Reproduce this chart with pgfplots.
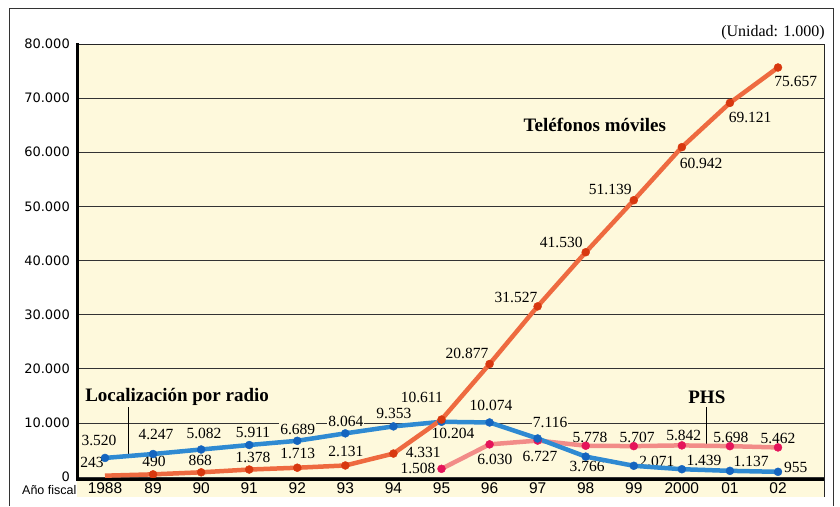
\documentclass[border=0pt]{standalone}
\usepackage{pgfplots}
\pgfplotsset{compat=1.18}
\usepackage{fontspec}
\setmainfont{Liberation Serif}
\setsansfont{Liberation Sans}
\newfontfamily\dejavu{DejaVu Sans}
\definecolor{bg}{HTML}{FEF9DC}
\definecolor{mobline}{HTML}{EE6A40}
\definecolor{mobmark}{HTML}{D8380F}
\definecolor{radline}{HTML}{2F8AD2}
\definecolor{radmark}{HTML}{1565BF}
\definecolor{phsline}{HTML}{F28C88}
\definecolor{phsmark}{HTML}{E5145A}
\tikzset{
  lbl/.style={font=\fontsize{15.5}{15.5}\selectfont, fill=bg, inner sep=1pt},
  ser/.style={font=\bfseries\fontsize{19}{19}\selectfont, anchor=base, inner sep=0pt},
}
\begin{document}
\begin{tikzpicture}[x=1pt,y=1pt]
\useasboundingbox (0,0) rectangle (840,506);
\fill[white] (0,0) rectangle (840,506);
\draw[line width=1pt, black!80] (9,0) -- (9,497) -- (833,497) -- (833,0);
\fill[bg] (77,9) rectangle (824,462);
\node[font=\sffamily\fontsize{12.5}{12.5}\selectfont, anchor=base west, inner sep=0pt] at (22,12) {Año fiscal};
\node[font=\fontsize{16}{16}\selectfont, anchor=base east, inner sep=0pt] at (825,469) {(Unidad: 1.000)};
\begin{axis}[
  at={(77pt,29pt)}, anchor=south west,
  scale only axis, width=747pt, height=433pt,
  xmin=-0.5825, xmax=14.957, ymin=0, ymax=80000,
  axis line style={draw=none},
  xtick={0,...,14},
  xticklabels={1988,89,90,91,92,93,94,95,96,97,98,99,2000,01,02},
  ytick={0,10000,...,80000},
  yticklabels={0,10.000,20.000,30.000,40.000,50.000,60.000,70.000,80.000},
  scaled y ticks=false,
  major tick length=0pt,
  ymajorgrids,
  grid style={black!80, line width=0.7pt},
  xticklabel style={font=\sffamily\fontsize{15.5}{15.5}\selectfont, anchor=center, yshift=-11pt},
  yticklabel style={font=\dejavu\fontsize{13}{13}\selectfont, anchor=east, inner sep=0pt, xshift=-7pt},
  clip=false,
]
% Localizacion por radio labels
\node[lbl] at (axis cs:-0.125,6836) {3.520};
\node[lbl] at (axis cs:1.06,7945) {4.247};
\node[lbl] at (axis cs:2.06,8129) {5.082};
\node[lbl] at (axis cs:3.08,8314) {5.911};
\node[lbl] at (axis cs:4.01,8868) {6.689};
\node[lbl] at (axis cs:5.01,10347) {8.064};
\node[lbl] at (axis cs:6.01,11825) {9.353};
\node[lbl] at (axis cs:7.24,8129) {10.204};
\node[lbl] at (axis cs:8.03,13303) {10.074};
\node[lbl] at (axis cs:9.26,10162) {7.116};
\node[lbl] at (axis cs:10.03,2000) {3.766};
\node[lbl] at (axis cs:11.48,2956) {2.071};
\node[lbl] at (axis cs:12.46,3141) {1.439};
\node[lbl] at (axis cs:13.44,2956) {1.137};
\node[lbl] at (axis cs:14.37,1848) {955};
% Telefonos moviles labels
\node[lbl] at (axis cs:-0.27,2771) {243};
\node[lbl] at (axis cs:1.02,2956) {490};
\node[lbl] at (axis cs:1.98,3141) {868};
\node[lbl] at (axis cs:3.08,3695) {1.378};
\node[lbl] at (axis cs:4.01,4434) {1.713};
\node[lbl] at (axis cs:5.01,4804) {2.131};
\node[lbl] at (axis cs:6.62,4619) {4.331};
\node[lbl] at (axis cs:6.59,14781) {10.611};
\node[lbl] at (axis cs:7.53,22910) {20.877};
\node[lbl] at (axis cs:8.55,33257) {31.527};
\node[lbl] at (axis cs:9.49,43419) {41.530};
\node[lbl] at (axis cs:10.51,53211) {51.139};
\node[lbl] at (axis cs:12.40,58015) {60.942};
\node[lbl] at (axis cs:13.42,66514) {69.121};
\node[lbl] at (axis cs:14.37,73165) {75.657};
% PHS labels
\node[lbl] at (axis cs:6.51,1663) {1.508};
\node[lbl] at (axis cs:8.11,3326) {6.030};
\node[lbl] at (axis cs:9.05,3880) {6.727};
\node[lbl] at (axis cs:10.09,7390) {5.778};
\node[lbl] at (axis cs:11.07,7390) {5.707};
\node[lbl] at (axis cs:12.04,7760) {5.842};
\node[lbl] at (axis cs:13.02,7390) {5.698};
\node[lbl] at (axis cs:14.0,7206) {5.462};
% series names
\node[ser] at (axis cs:10.19,63742) {Teléfonos móviles};
\node[ser] at (axis cs:1.50,13857) {Localización por radio};
\node[ser] at (axis cs:12.52,13672) {PHS};
\draw[black, line width=0.8pt] (axis cs:0.48,12933) -- (axis cs:0.48,4200);
\draw[black, line width=0.8pt] (axis cs:12.52,12933) -- (axis cs:12.52,6000);
% PHS
\addplot[phsline, line width=4.5pt, line join=round] coordinates {(7,1508)(8,6030)(9,6727)(10,5778)(11,5707)(12,5842)(13,5698)(14,5462)};
\addplot[only marks, mark=*, mark size=4pt, phsmark, mark options={draw=none}] coordinates {(7,1508)(8,6030)(9,6727)(10,5778)(11,5707)(12,5842)(13,5698)(14,5462)};
% Localizacion por radio
\addplot[radline, line width=4.5pt, line join=round] coordinates {(0,3520)(1,4247)(2,5082)(3,5911)(4,6689)(5,8064)(6,9353)(7,10204)(8,10074)(9,7116)(10,3766)(11,2071)(12,1439)(13,1137)(14,955)};
\addplot[only marks, mark=*, mark size=4pt, radmark, mark options={draw=none}] coordinates {(0,3520)(1,4247)(2,5082)(3,5911)(4,6689)(5,8064)(6,9353)(7,10204)(8,10074)(9,7116)(10,3766)(11,2071)(12,1439)(13,1137)(14,955)};
% Telefonos moviles
\addplot[mobline, line width=4.5pt, line join=round] coordinates {(0,243)(1,490)(2,868)(3,1378)(4,1713)(5,2131)(6,4331)(7,10611)(8,20877)(9,31527)(10,41530)(11,51139)(12,60942)(13,69121)(14,75657)};
\addplot[only marks, mark=*, mark size=4pt, mobmark, mark options={draw=none}] coordinates {(1,490)(2,868)(3,1378)(4,1713)(5,2131)(6,4331)(7,10611)(8,20877)(9,31527)(10,41530)(11,51139)(12,60942)(13,69121)(14,75657)};
\end{axis}
\draw[black!85, line width=0.8pt] (77,462) -- (824,462) -- (824,9);
\draw[black, line width=3pt] (77,462.5) -- (77,27) -- (824,27);
\end{tikzpicture}
\end{document}
